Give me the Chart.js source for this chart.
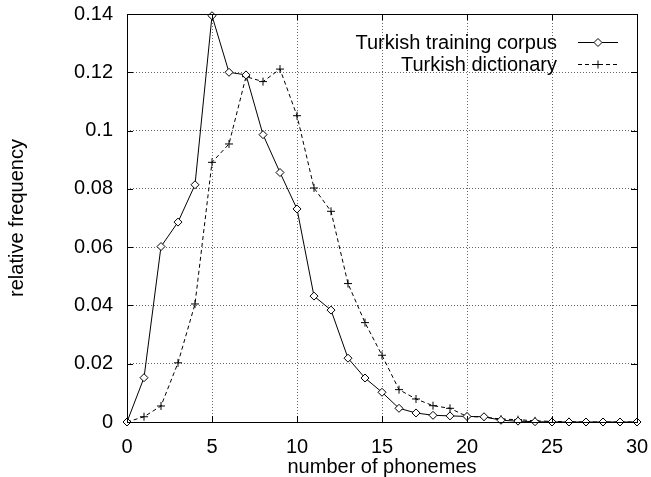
<!DOCTYPE html>
<html>
<head>
<meta charset="utf-8">
<script src="https://cdn.jsdelivr.net/npm/chart.js@4/dist/chart.umd.min.js"></script>
<style>
  html, body { margin: 0; padding: 0; background: #fff; }
  #wrap { width: 651px; height: 477px; }
</style>
</head>
<body>
<div id="wrap"><canvas id="chart" width="651" height="477"></canvas></div>
<script>
// number of phonemes 0..30
const phonemes = [0, 1, 2, 3, 4, 5, 6, 7, 8, 9, 10, 11, 12, 13, 14, 15, 16, 17, 18, 19, 20,
  21, 22, 23, 24, 25, 26, 27, 28, 29, 30];
const corpus = [0, 0.0152, 0.0602, 0.0686, 0.0814, 0.1394, 0.1200, 0.1191, 0.0986, 0.0856, 0.0731,
  0.0432, 0.0384, 0.0219, 0.0151, 0.0102, 0.0047, 0.0031, 0.0023, 0.0021, 0.0019,
  0.0018, 0.0006, 0.0003, 0.0001, 0, 0, 0, 0, 0, 0];
const dictionary = [0, 0.0018, 0.0055, 0.0203, 0.0405, 0.0891, 0.0954, 0.1185, 0.1168, 0.1211, 0.1051,
  0.0803, 0.0723, 0.0475, 0.0341, 0.0229, 0.0111, 0.0079, 0.0056, 0.0047, 0.0019,
  0.0017, 0.0010, 0.0008, 0.0004, 0.0002, 0.0001, 0, 0, 0, 0];
const seriesNames = ["Turkish training corpus", "Turkish dictionary"];

const FONT = "'Liberation Sans', Arial, Helvetica, sans-serif";

function pts(ys) {
  return phonemes.map((x, i) => ({ x: x, y: ys[i] }));
}

// gnuplot style box + inward tics + key
const boxPlugin = {
  id: "box",
  afterDraw(chart) {
    const ctx = chart.ctx;
    const a = chart.chartArea;
    const sx = chart.scales.x, sy = chart.scales.y;
    ctx.save();
    ctx.strokeStyle = "#000";
    ctx.lineWidth = 1;
    ctx.setLineDash([]);
    ctx.strokeRect(Math.round(a.left) + 0.5, Math.round(a.top) + 0.5,
      Math.round(a.right - a.left), Math.round(a.bottom - a.top));
    const tl = 6;
    ctx.beginPath();
    sx.ticks.forEach(t => {
      const px = Math.round(sx.getPixelForValue(t.value)) + 0.5;
      ctx.moveTo(px, a.bottom); ctx.lineTo(px, a.bottom - tl);
      ctx.moveTo(px, a.top); ctx.lineTo(px, a.top + tl);
    });
    sy.ticks.forEach(t => {
      const py = Math.round(sy.getPixelForValue(t.value)) + 0.5;
      ctx.moveTo(a.left, py); ctx.lineTo(a.left + tl, py);
      ctx.moveTo(a.right, py); ctx.lineTo(a.right - tl, py);
    });
    ctx.stroke();

    // key, top right
    ctx.font = "20px " + FONT;
    ctx.textAlign = "right";
    ctx.textBaseline = "middle";
    chart.data.datasets.forEach((ds, i) => {
      const y = 42 + i * 22;
      ctx.fillStyle = "#000";
      ctx.fillText(ds.label, 557, y + 1);
      ctx.setLineDash(ds.borderDash || []);
      ctx.beginPath();
      ctx.moveTo(578, y + 0.5);
      ctx.lineTo(618, y + 0.5);
      ctx.stroke();
      ctx.setLineDash([]);
      ctx.fillStyle = "#fff";
      Chart.helpers.drawPoint(ctx, {
        pointStyle: ds.pointStyle, radius: ds.pointRadius, borderWidth: 1
      }, 598, y + 0.5);
    });
    ctx.restore();
  }
};

const ctx = document.getElementById("chart").getContext("2d");
const myChart = new Chart(ctx, {
  type: "line",
  data: {
    datasets: [
      {
        label: seriesNames[0],
        data: pts(corpus),
        borderColor: "#000",
        borderWidth: 1,
        pointStyle: "rectRot",
        pointRadius: 4,
        pointBorderWidth: 1,
        pointBackgroundColor: "#fff",
        pointBorderColor: "#000",
        clip: false,
        tension: 0
      },
      {
        label: seriesNames[1],
        data: pts(dictionary),
        borderColor: "#000",
        borderWidth: 1,
        borderDash: [4, 3],
        pointStyle: "cross",
        pointRadius: 4,
        pointBorderWidth: 1,
        pointBorderColor: "#000",
        clip: false,
        tension: 0
      }
    ]
  },
  options: {
    responsive: false,
    animation: false,
    layout: { padding: { top: 14, right: 14, left: 0, bottom: 0 } },
    plugins: { legend: { display: false }, tooltip: { enabled: false } },
    scales: {
      x: {
        type: "linear",
        min: 0,
        max: 30,
        afterFit: s => { s.height = 55; s.paddingLeft = 0; s.paddingRight = 0; },
        ticks: { stepSize: 5, padding: 13, color: "#000", maxRotation: 0,
          font: { family: FONT, size: 20 } },
        grid: { color: "#666", drawTicks: false },
        border: { display: false, dash: [1, 2] },
        title: { display: true, text: "number of phonemes", color: "#000",
          padding: { top: 0, bottom: 0 }, font: { family: FONT, size: 20, lineHeight: 1 } }
      },
      y: {
        min: 0,
        max: 0.14,
        afterFit: s => { s.width = 127; s.paddingTop = 0; s.paddingBottom = 0; },
        ticks: { stepSize: 0.02, padding: 14, color: "#000",
          callback: v => String(+v.toFixed(2)),
          font: { family: FONT, size: 20 } },
        grid: { color: "#666", drawTicks: false },
        border: { display: false, dash: [1, 2] },
        title: { display: true, text: "relative frequency", color: "#000",
          padding: { top: 7, bottom: 0 }, font: { family: FONT, size: 20, lineHeight: 1 } }
      }
    }
  },
  plugins: [boxPlugin]
});
</script>
</body>
</html>
